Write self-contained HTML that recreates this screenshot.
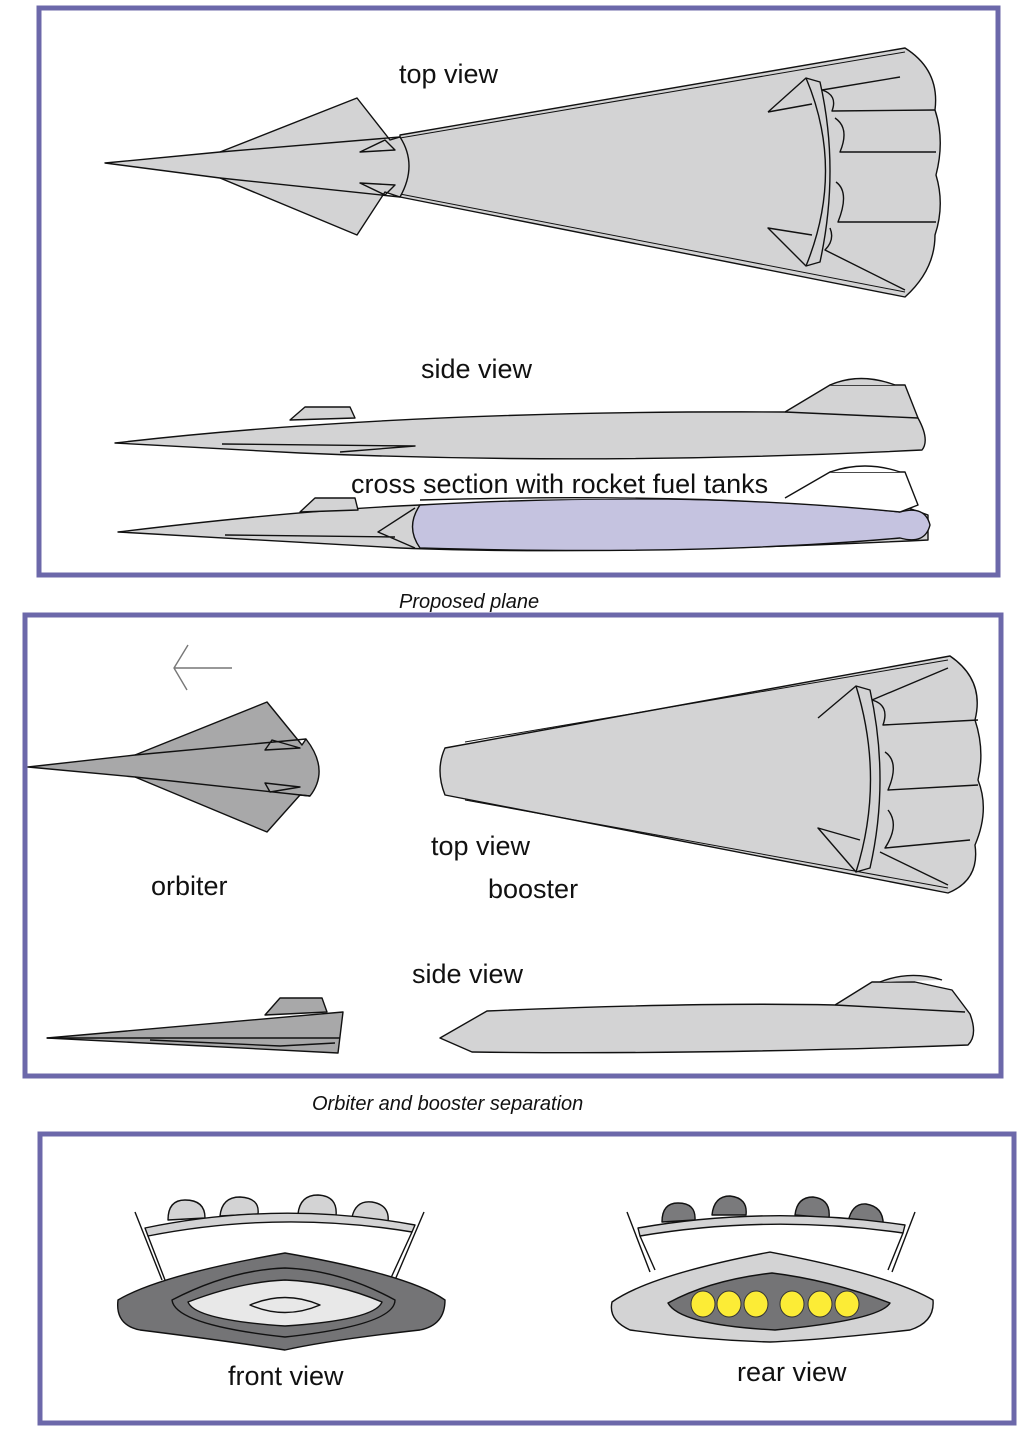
<!DOCTYPE html>
<html><head><meta charset="utf-8"><style>
html,body{margin:0;padding:0;background:#fff}
svg{display:block}
text{font-family:"Liberation Sans",sans-serif;fill:#111}
</style></head><body>
<svg width="1024" height="1448" viewBox="0 0 1024 1448" xmlns="http://www.w3.org/2000/svg">
<g fill="none" stroke="#6c68aa" stroke-width="5">
<rect x="39" y="8" width="959" height="567"/>
<rect x="25" y="615" width="976" height="461"/>
<rect x="40" y="1134" width="974" height="289"/>
</g>
<g stroke="#111" stroke-width="1.4" stroke-linejoin="round">
<path d="M400,135 L905,48 Q940,70 935,110 Q945,140 936,175 Q945,205 935,235 Q935,270 905,297 L400,197 Z" fill="#d3d3d4"/>
<path d="M400,138 L905,52 M400,194 L905,292" fill="none" stroke-width="1"/>
<path d="M768,112 L806,78 L820,82 Q840,170 820,262 L806,266 L768,228 L812,235" fill="none"/>
<path d="M806,78 Q845,170 806,266" fill="none"/>
<path d="M822,90 L900,77 M822,90 Q838,95 832,111 L935,110 M835,118 Q850,128 840,152 L936,152 M836,182 Q850,192 838,222 L936,222 M830,228 Q835,240 825,250 L905,290 M768,112 L812,104" fill="none"/>
<path d="M105,163 L220,152 L357,98 L390,140 L400,137 Q418,165 400,197 L385,192 L357,235 L220,178 Z" fill="#d3d3d4"/>
<path d="M220,152 L400,137 M220,178 L400,197 M360,152 L395,150 L385,140 Z M360,183 L395,185 L385,195 Z" fill="none"/>
<path d="M115,443 Q400,410 785,412 L830,385 L905,385 L918,418 Q930,440 922,450 Q600,466 300,453 Z" fill="#d3d3d4"/>
<path d="M785,412 L918,418 M222,444 L415,446 L340,452" fill="none"/>
<path d="M290,420 L305,407 L350,407 L355,418 Z" fill="#d3d3d4"/>
<path d="M830,385 Q860,372 895,385" fill="#d3d3d4"/>
<path d="M118,532 Q300,510 420,505 L900,505 L928,515 L928,540 Q600,556 400,548 Z" fill="#d3d3d4"/>
<path d="M420,505 Q700,490 900,512 Q925,505 930,525 Q925,545 900,538 Q700,556 420,548 Q405,527 420,505 Z" fill="#c5c3e0"/>
<path d="M785,498 L830,472 L905,472 L918,505 L900,512 Q700,492 420,500" fill="#fff"/>
<path d="M830,472 Q865,460 900,472" fill="#fff"/>
<path d="M300,512 L315,498 L355,498 L358,510 Z" fill="#d3d3d4"/>
<path d="M415,508 L378,532 L415,548 M225,535 L395,537" fill="none"/>
<path d="M28,767 L135,755 L267,702 L302,745 L306,739 Q330,770 310,796 L300,795 L267,832 L135,777 Z" fill="#a8a8a9"/>
<path d="M135,755 L306,739 M135,777 L310,796 M265,750 L300,748 L272,740 Z M265,783 L300,787 L270,792 Z" fill="none"/>
<path d="M174,668 L232,668 M188,645 L174,668 L187,690" stroke="#777" fill="none"/>
<path d="M445,748 L950,656 Q985,680 975,720 Q985,750 978,780 Q990,810 975,845 Q980,880 948,893 L445,795 Q435,770 445,748 Z" fill="#d3d3d4"/>
<path d="M465,742 L948,660 M465,800 L948,888" fill="none" stroke-width="1"/>
<path d="M818,718 L856,686 L870,690 Q890,780 870,868 L856,872 L818,828 L860,840" fill="none"/>
<path d="M856,686 Q885,780 856,872" fill="none"/>
<path d="M872,700 L948,668 M872,700 Q890,705 883,725 L978,720 M885,752 Q900,762 888,790 L978,785 M888,810 Q900,825 885,848 L970,840 M880,852 L948,885" fill="none"/>
<path d="M265,1015 L280,998 L322,998 L327,1012 Z" fill="#a8a8a9"/>
<path d="M47,1038 L343,1012 L338,1053 Z" fill="#a8a8a9"/>
<path d="M47,1038 L340,1038 M150,1040 L280,1046 L335,1043" fill="none"/>
<path d="M440,1038 L487,1011 Q700,1002 835,1005 L872,982 L915,982 L952,990 L970,1014 Q978,1035 968,1045 Q700,1055 472,1052 Z" fill="#d3d3d4"/>
<path d="M835,1005 L965,1012" fill="none"/>
<path d="M880,982 Q910,970 942,980" fill="#d3d3d4"/>
<g>
<path d="M168,1220 Q168,1200 185,1200 Q205,1200 205,1218 Z M220,1216 Q222,1197 240,1197 Q260,1198 258,1214 Z M298,1214 Q300,1195 318,1195 Q338,1196 336,1216 Z M352,1217 Q356,1200 372,1202 Q390,1205 388,1222 Z" fill="#d3d3d4"/>
<path d="M145,1228 Q280,1200 415,1225 L412,1232 Q280,1210 148,1236 Z" fill="#d3d3d4"/>
<path d="M135,1212 L162,1280 M424,1212 L395,1280 M148,1236 L165,1280 M412,1232 L390,1280" fill="none"/>
<path d="M118,1300 Q160,1275 285,1253 Q410,1275 445,1300 Q445,1325 420,1330 Q330,1340 285,1350 Q220,1340 140,1330 Q115,1325 118,1300 Z" fill="#747476"/>
<path d="M172,1300 Q230,1270 285,1268 Q340,1270 395,1300 Q395,1325 285,1337 Q175,1325 172,1300 Z" fill="#747476"/>
<path d="M188,1302 Q240,1282 285,1280 Q335,1282 382,1302 Q375,1320 285,1326 Q195,1320 188,1302 Z" fill="#e8e8e8"/>
<path d="M250,1305 Q285,1290 320,1305 Q285,1320 250,1305 Z" fill="#e8e8e8"/>
</g>
<g>
<path d="M662,1222 Q662,1203 678,1203 Q696,1203 695,1220 Z M712,1215 Q714,1196 730,1196 Q748,1198 746,1215 Z M795,1215 Q797,1197 813,1197 Q831,1199 829,1218 Z M848,1222 Q852,1203 866,1204 Q885,1207 883,1228 Z" fill="#7a7a7c"/>
<path d="M638,1228 Q770,1205 905,1225 L903,1233 Q770,1214 640,1236 Z" fill="#d3d3d4"/>
<path d="M627,1212 L650,1272 M915,1212 L892,1272 M640,1236 L655,1270 M903,1233 L888,1270" fill="none"/>
<path d="M612,1302 Q650,1275 770,1252 Q890,1275 933,1300 Q935,1322 910,1330 Q820,1340 770,1342 Q700,1340 630,1330 Q608,1320 612,1302 Z" fill="#d3d3d4"/>
<path d="M668,1303 Q710,1280 772,1273 Q830,1280 890,1303 Q880,1320 775,1330 Q680,1325 668,1303 Z" fill="#747476"/>
<g fill="#fcec36" stroke="#333" stroke-width="1">
<ellipse cx="703" cy="1304" rx="12" ry="13"/><ellipse cx="729" cy="1304" rx="12" ry="13"/><ellipse cx="756" cy="1304" rx="12" ry="13"/>
<ellipse cx="792" cy="1304" rx="12" ry="13"/><ellipse cx="820" cy="1304" rx="12" ry="13"/><ellipse cx="847" cy="1304" rx="12" ry="13"/>
</g>
</g>
</g>
<g font-size="27">
<text x="399" y="83">top view</text>
<text x="421" y="378">side view</text>
<text x="351" y="493">cross section with rocket fuel tanks</text>
<text x="431" y="855">top view</text>
<text x="151" y="895">orbiter</text>
<text x="488" y="898">booster</text>
<text x="412" y="983">side view</text>
<text x="228" y="1385">front view</text>
<text x="737" y="1381">rear view</text>
</g>
<g font-size="20" font-style="italic">
<text x="399" y="608">Proposed plane</text>
<text x="312" y="1110">Orbiter and booster separation</text>
</g>
</svg>
</body></html>
